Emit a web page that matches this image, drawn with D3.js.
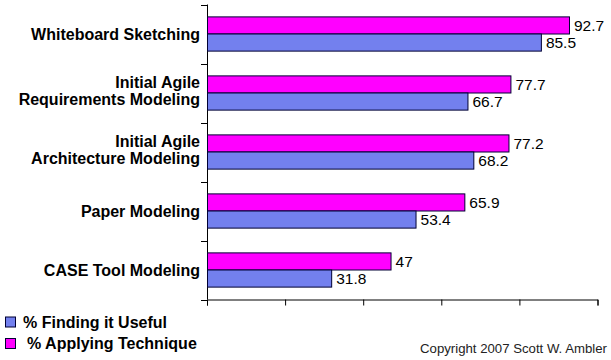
<!DOCTYPE html>
<html><head><meta charset="utf-8">
<script src="https://cdn.jsdelivr.net/npm/d3@7"></script>
<style>body{margin:0;background:#fff}svg{display:block}text{font-family:"Liberation Sans",Arial,sans-serif}</style>
</head><body>
<svg id="c" width="611" height="360"></svg>
<script>
const categories = [["Whiteboard Sketching"],["Initial Agile","Requirements Modeling"],["Initial Agile","Architecture Modeling"],["Paper Modeling"],["CASE Tool Modeling"]];
const applying = [92.7, 77.7, 77.2, 65.9, 47];
const useful = [85.5, 66.7, 68.2, 53.4, 31.8];
const xTicks = [0, 20, 40, 60, 80, 100];
const seriesNames = ["% Finding it Useful", "% Applying Technique"];
const colors = {useful: "#7380ee", applying: "#ff00ff"};

const svg = d3.select("#c");
const x = d3.scaleLinear().domain([0, 100]).range([207, 597.5]);
const y = d3.scaleBand().domain(d3.range(categories.length)).range([4.5, 299.5]).paddingInner(0.42).paddingOuter(0.21);
const sub = d3.scaleBand().domain(["applying","useful"]).range([0, y.bandwidth()]);

// axes
const xAxis = d3.axisBottom(x).tickValues(xTicks).tickSize(6).tickFormat("");
const gx = svg.append("g").attr("transform","translate(0,299.5)").call(xAxis);
gx.select(".domain").attr("stroke","#000");
gx.selectAll(".tick line").attr("stroke","#000");

const bandEdges = d3.range(categories.length+1).map(i => 4.5 + i*59);
svg.append("line").attr("x1",207.5).attr("x2",207.5).attr("y1",4.5).attr("y2",299.5).attr("stroke","#000");
svg.selectAll(".ytick").data(bandEdges).join("line").attr("x1",201).attr("x2",207.5)
  .attr("y1",d=>Math.round(d)+0.5).attr("y2",d=>Math.round(d)+0.5).attr("stroke","#000");

const groups = [["applying", applying], ["useful", useful]];
groups.forEach(([key, vals]) => {
  svg.append("g").selectAll("rect").data(vals).join("rect")
    .attr("x", x(0)+0.5)
    .attr("y", (d,i) => y(i) + sub(key))
    .attr("width", d => x(d) - x(0))
    .attr("height", sub.bandwidth())
    .attr("fill", colors[key]).attr("stroke","#000033").attr("stroke-width",1);
  svg.append("g").selectAll("text").data(vals).join("text")
    .attr("x", d => x(d) + 5)
    .attr("y", (d,i) => y(i) + sub(key) + sub.bandwidth()/2)
    .attr("dy","0.36em").attr("font-size",15.5).attr("fill","#000")
    .text(d => d);
});

// category labels
categories.forEach((lines, i) => {
  const cy = y(i) + y.bandwidth()/2 - (lines.length > 1 ? 2.5 : 0);
  const t = svg.append("text").attr("text-anchor","end").attr("font-size",16).attr("font-weight","bold");
  lines.forEach((ln, j) => {
    t.append("tspan").attr("x", 200).attr("y", cy + (j - (lines.length-1)/2)*16.7).attr("dy","0.36em").text(ln);
  });
});

// legend
const leg = [["useful", seriesNames[0]], ["applying", seriesNames[1]]];
leg.forEach(([key, name], i) => {
  const ly = 322 + i*21.5;
  svg.append("rect").attr("x",5.5).attr("y",ly-5).attr("width",10).attr("height",10)
    .attr("fill",colors[key]).attr("stroke","#000033");
  svg.append("text").attr("x", i===0 ? 23 : 27).attr("y", ly).attr("dy","0.36em")
    .attr("font-size",16).attr("font-weight","bold").text(name);
});

svg.append("text").attr("x",607).attr("y",348).attr("dy","0.36em").attr("text-anchor","end")
  .attr("font-size",13.2).attr("fill","#222").text("Copyright 2007 Scott W. Ambler");
</script>
</body></html>
